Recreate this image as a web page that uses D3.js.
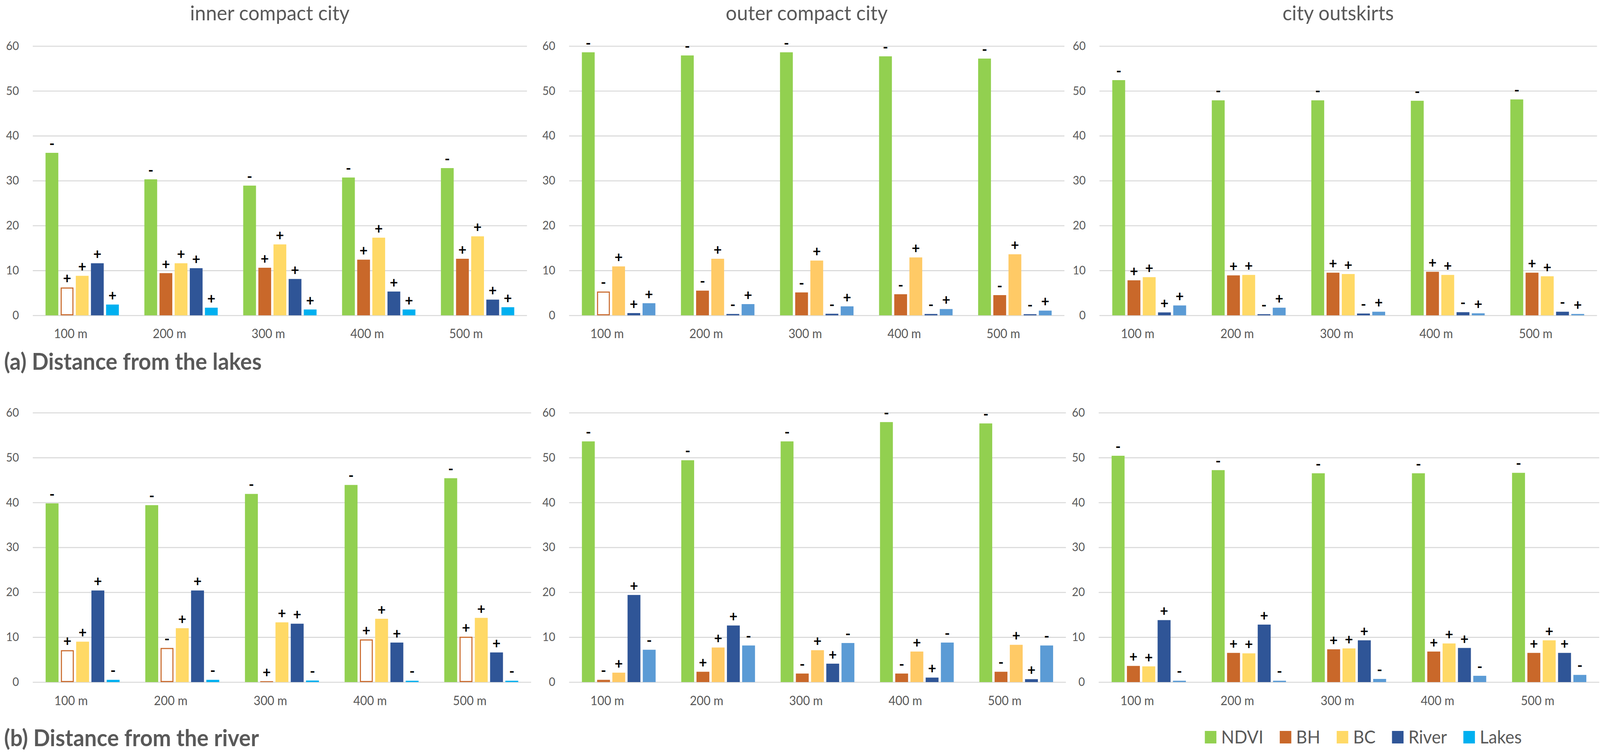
<!DOCTYPE html>
<html>
<head>
<meta charset="utf-8">
<script src="https://cdn.jsdelivr.net/npm/d3@7"></script>
<style>
  html, body { margin: 0; padding: 0; background: #fff; overflow: hidden; }
  svg { display: block; width: 100vw; height: 100vh; }
  text { font-family: Lato, "Open Sans", sans-serif; }
</style>
</head>
<body>
<svg id="chart" viewBox="0 0 4296 1929" preserveAspectRatio="none"></svg>
<script>
// categories and series
const cats = ["100 m", "200 m", "300 m", "400 m", "500 m"];
const series = ["NDVI", "BH", "BC", "River", "Lakes"];
const zones = ["inner compact city", "outer compact city", "city outskirts"];
const rowTitles = ["(a) Distance from the lakes", "(b) Distance from the river"];
const yTicks = [0, 10, 20, 30, 40, 50, 60];

// (a) distance from the lakes, one row per series
const lakesInner = [
  [36.2, 30.3, 28.9, 30.7, 32.8],
  [6.2, 9.4, 10.6, 12.4, 12.6],
  [8.8, 11.6, 15.8, 17.3, 17.6],
  [11.6, 10.5, 8.1, 5.3, 3.5],
  [2.4, 1.7, 1.3, 1.3, 1.8]
];
const lakesOuter = [
  [58.6, 57.9, 58.6, 57.7, 57.2],
  [5.3, 5.5, 5.1, 4.7, 4.5],
  [10.9, 12.6, 12.2, 12.9, 13.6],
  [0.5, 0.3, 0.35, 0.3, 0.25],
  [2.7, 2.5, 2.0, 1.4, 1.05]
];
const lakesOutskirts = [
  [52.4, 47.9, 47.9, 47.8, 48.1],
  [7.8, 8.9, 9.5, 9.7, 9.5],
  [8.5, 9.0, 9.2, 9.0, 8.7],
  [0.65, 0.25, 0.4, 0.7, 0.8],
  [2.2, 1.7, 0.8, 0.45, 0.3]
];
// (b) distance from the river
const riverInner = [
  [39.8, 39.4, 41.9, 43.9, 45.4],
  [7.1, 7.6, 0.2, 9.5, 10.1],
  [9.0, 12.0, 13.3, 14.1, 14.3],
  [20.4, 20.4, 13.0, 8.8, 6.6],
  [0.5, 0.5, 0.35, 0.3, 0.3]
];
const riverOuter = [
  [53.6, 49.4, 53.6, 57.9, 57.6],
  [0.5, 2.3, 1.9, 1.9, 2.3],
  [2.1, 7.7, 7.1, 6.8, 8.3],
  [19.4, 12.6, 4.1, 1.0, 0.65],
  [7.2, 8.15, 8.7, 8.8, 8.15]
];
const riverOutskirts = [
  [50.4, 47.2, 46.5, 46.5, 46.6],
  [3.6, 6.5, 7.3, 6.8, 6.5],
  [3.5, 6.4, 7.5, 8.6, 9.3],
  [13.8, 12.8, 9.3, 7.6, 6.5],
  [0.3, 0.3, 0.7, 1.4, 1.6]
];

// sign of the effect, one character per category
const lakesInnerSigns = ["-----", "+++++", "+++++", "+++++", "+++++"];
const lakesOuterSigns = ["-----", "-----", "+++++", "+----", "+++++"];
const lakesOutskirtsSigns = ["-----", "+++++", "+++++", "+----", "+++++"];
const riverInnerSigns = ["-----", "+-+++", "+++++", "+++++", "-----"];
const riverOuterSigns = ["-----", "-+---", "+++++", "+++++", "-----"];
const riverOutskirtsSigns = ["-----", "+++++", "+++++", "+++++", "-----"];

// BH bars drawn hollow (category indexes)
const lakesInnerHollow = [0];
const lakesOuterHollow = [0];
const lakesOutskirtsHollow = [];
const riverInnerHollow = [0, 1, 3, 4];
const riverOuterHollow = [0];
const riverOutskirtsHollow = [];

const panels = [
  [
    {values: lakesInner, signs: lakesInnerSigns, hollow: lakesInnerHollow},
    {values: lakesOuter, signs: lakesOuterSigns, hollow: lakesOuterHollow},
    {values: lakesOutskirts, signs: lakesOutskirtsSigns, hollow: lakesOutskirtsHollow}
  ],
  [
    {values: riverInner, signs: riverInnerSigns, hollow: riverInnerHollow},
    {values: riverOuter, signs: riverOuterSigns, hollow: riverOuterHollow},
    {values: riverOutskirts, signs: riverOutskirtsSigns, hollow: riverOutskirtsHollow}
  ]
];

// colours per column of panels
const palettes = [
  ["#92D050", "#C9682A", "#FFD966", "#2F5597", "#00B0F0"],
  ["#92D050", "#C9682A", "#FFCA66", "#2F5597", "#5B9BD5"],
  ["#92D050", "#C9682A", "#FFD966", "#2F5597", "#5B9BD5"]
];

// layout
const colX = [[88, 1415, 88, 1426], [1528, 2858, 1528, 2862], [2952, 4288, 2950, 4294]];
const rowY = [[806.7, 117.7], [1745, 1055.7]];

const svg = d3.select("#chart");
const grey = "#595959";

panels.forEach((row, r) => {
  row.forEach((p, c) => {
    const left = colX[c][r * 2], right = colX[c][r * 2 + 1];
    const W = right - left;
    const g = svg.append("g").attr("transform", `translate(${left},0)`);

    const y = d3.scaleLinear().domain([0, 60]).range(rowY[r]);
    const x0 = d3.scaleBand().domain(cats).range([0, W]).paddingInner(0.258).paddingOuter(0.129);
    const x1 = d3.scaleBand().domain(series).range([0, x0.bandwidth()]).paddingInner(0.155);

    // gridlines + tick labels
    const ya = g.append("g")
      .call(d3.axisLeft(y).tickValues(yTicks).tickSize(-W).tickPadding(37));
    ya.select(".domain").remove();
    ya.selectAll("line").attr("stroke", "#D9D9D9").attr("stroke-width", 2.6);
    ya.selectAll("text").attr("fill", grey).style("font-size", "30px").style("font-family", "Lato, sans-serif");

    // category labels
    const xa = g.append("g").attr("transform", `translate(0,${rowY[r][0]})`)
      .call(d3.axisBottom(x0).tickSize(0).tickPadding(36));
    xa.select(".domain").remove();
    xa.selectAll("text").attr("fill", grey).attr("dx", -31)
      .style("font-size", "32px").style("font-family", "Lato, sans-serif");

    // bars
    const cells = [];
    p.values.forEach((vals, s) => vals.forEach((v, k) => {
      cells.push({s, k, v, sign: p.signs[s][k], hollow: s === 1 && p.hollow.includes(k)});
    }));
    const pal = palettes[c];

    g.selectAll("rect.bar").data(cells).join("rect")
      .attr("class", "bar")
      .attr("x", d => x0(cats[d.k]) + x1(series[d.s]) + (d.hollow ? 1.4 : 0))
      .attr("width", d => x1.bandwidth() - (d.hollow ? 2.8 : 0))
      .attr("y", d => y(d.v) + (d.hollow ? 1.4 : 0))
      .attr("height", d => Math.max(0.5, y(0) - y(d.v) - (d.hollow ? 2.8 : 0)))
      .attr("fill", d => d.hollow ? "#fff" : pal[d.s])
      .attr("stroke", d => d.hollow ? pal[1] : "none")
      .attr("stroke-width", d => d.hollow ? 2.8 : 0);

    // +/- labels
    g.selectAll("text.sign").data(cells).join("text")
      .attr("class", "sign")
      .attr("x", d => x0(cats[d.k]) + x1(series[d.s]) + x1.bandwidth() / 2)
      .attr("y", d => y(d.v) - 25)
      .attr("text-anchor", "middle")
      .attr("dominant-baseline", "central")
      .attr("fill", "#000")
      .style("font-size", "38px")
      .style("font-weight", "bold")
      .text(d => d.sign);

    // panel title (top row only)
    if (r === 0) {
      svg.append("text")
        .attr("x", (left + right) / 2 - 27)
        .attr("y", 52)
        .attr("text-anchor", "middle")
        .attr("fill", grey)
        .style("font-size", "53px")
        .text(zones[c]);
    }
  });
});

// row titles
svg.selectAll("text.rowtitle").data(rowTitles).join("text")
  .attr("class", "rowtitle")
  .attr("x", 11)
  .attr("y", (d, i) => [946, 1909][i])
  .attr("fill", grey)
  .style("font-size", "59px")
  .style("font-weight", "bold")
  .text(d => d);

// legend
const legend = svg.append("g").attr("transform", "translate(3235,0)");
let lx = 0;
series.forEach((name, i) => {
  legend.append("rect")
    .attr("x", lx).attr("y", 1870).attr("width", 31).attr("height", 32)
    .attr("fill", palettes[0][i]);
  const t = legend.append("text")
    .attr("x", lx + 44).attr("y", 1902)
    .attr("fill", grey)
    .style("font-size", "46px")
    .text(name);
  lx += 44 + t.node().getComputedTextLength() + 44;
});
</script>
</body>
</html>
